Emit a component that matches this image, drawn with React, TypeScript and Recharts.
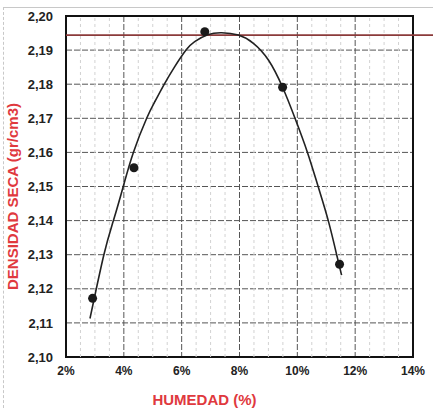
import React from "react";
import {
  ComposedChart,
  Line,
  Scatter,
  XAxis,
  YAxis,
  CartesianGrid,
  ReferenceLine,
  ReferenceArea,
  Label,
} from "recharts";

// Measured points (humidity %, dry density)
const humidity = [2.92, 4.35, 6.8, 9.49, 11.46];
const density = [2.1172, 2.1555, 2.1954, 2.1791, 2.1272];

// Trend curve points
const curveX = [2.83, 3.31, 3.64, 3.98, 4.33, 4.79, 5.08, 5.4, 5.75, 6.15, 6.45, 6.9, 7.38, 7.96, 8.48, 9.0, 9.49, 9.92, 10.35, 10.72, 11.07, 11.36, 11.53];
const curveY = [2.1113, 2.13, 2.14, 2.15, 2.16, 2.17, 2.175, 2.18, 2.185, 2.19, 2.1925, 2.1945, 2.1951, 2.1944, 2.192, 2.1871, 2.1791, 2.17, 2.16, 2.15, 2.14, 2.13, 2.124];

// Maximum density line
const maxDensity = 2.1944;

const xTicks = [2, 4, 6, 8, 10, 12, 14];
const yTicks = [2.1, 2.11, 2.12, 2.13, 2.14, 2.15, 2.16, 2.17, 2.18, 2.19, 2.2];
const minorX = [2.5, 3, 3.5, 4.5, 5, 5.5, 6.5, 7, 7.5, 8.5, 9, 9.5, 10.5, 11, 11.5, 12.5, 13, 13.5];

const points = humidity.map((h, i) => ({ x: h, y: density[i] }));
const curve = curveX.map((h, i) => ({ x: h, y: curveY[i] }));

const font = "'Liberation Sans', Arial, sans-serif";

export default function App() {
  return (
    <div style={{ position: "absolute", left: 0, top: 0, width: 433, height: 408, background: "#fff", fontFamily: font, overflow: "hidden" }}>
      <div
        style={{
          position: "absolute",
          left: 3,
          top: 7,
          width: 440,
          height: 410,
          borderLeft: "1px dashed #c8c8c8",
          borderTop: "1px solid #c8c8c8",
        }}
      />
      <ComposedChart
        width={433}
        height={408}
        margin={{ top: 16, right: 20, bottom: 0, left: 0 }}
        style={{ position: "absolute", left: 0, top: 0 }}
      >
        <CartesianGrid stroke="#555" strokeDasharray="6 2" strokeWidth={1} />
        {minorX.map((m) => (
          <ReferenceLine key={m} x={m} stroke="#d2d2d2" strokeDasharray="3 3" strokeWidth={1} />
        ))}
        <XAxis
          type="number"
          dataKey="x"
          domain={[2, 14]}
          ticks={xTicks}
          tickFormatter={(v: number) => `${v}%`}
          tick={{ fill: "#222", fontSize: 12, fontWeight: 700, fontFamily: font }}
          tickLine={false}
          axisLine={false}
          tickMargin={3}
          height={51}
          allowDataOverflow
        >
          <Label
            value="HUMEDAD (%)"
            position="insideBottom"
            offset={3}
            dx={-35}
            style={{ fill: "#e0393e", fontSize: 15, fontWeight: 700, fontFamily: font }}
          />
        </XAxis>
        <YAxis
          type="number"
          dataKey="y"
          domain={[2.1, 2.2]}
          ticks={yTicks}
          tickFormatter={(v: number) => v.toFixed(2).replace(".", ",")}
          tick={{ fill: "#222", fontSize: 13, fontWeight: 700, fontFamily: font }}
          tickLine={false}
          axisLine={false}
          tickMargin={7}
          width={66}
          allowDataOverflow
        >
          <Label
            value="DENSIDAD SECA (gr/cm3)"
            angle={-90}
            position="insideLeft"
            offset={13}
            dy={10}
            style={{ fill: "#e0393e", fontSize: 15, fontWeight: 700, fontFamily: font, textAnchor: "middle" }}
          />
        </YAxis>
        <ReferenceArea x1={2} x2={14} y1={2.1} y2={2.2} fill="none" stroke="#111" strokeWidth={2} />
        <ReferenceLine
          segment={[
            { x: 2, y: maxDensity },
            { x: 14.7, y: maxDensity },
          ]}
          stroke="#8b3a3a"
          strokeWidth={1.6}
          ifOverflow="visible"
        />
        <Line
          data={curve}
          dataKey="y"
          type="natural"
          stroke="#222"
          strokeWidth={1.6}
          dot={false}
          activeDot={false}
          isAnimationActive={false}
        />
        <Scatter
          data={points}
          dataKey="y"
          fill="#1a1a1a"
          shape={(p: any) => <circle cx={p.cx} cy={p.cy} r={4.5} fill="#1a1a1a" />}
          isAnimationActive={false}
        />
      </ComposedChart>
    </div>
  );
}
